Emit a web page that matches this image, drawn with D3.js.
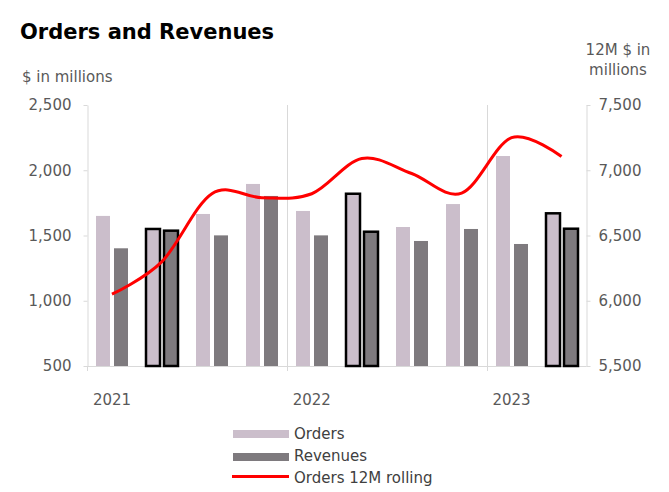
<!DOCTYPE html>
<html>
<head>
<meta charset="utf-8">
<script src="https://cdn.jsdelivr.net/npm/d3@7"></script>
<style>
  html, body { margin: 0; padding: 0; background: #fff; }
  svg { display: block; font-family: "DejaVu Sans", Verdana, sans-serif; }
</style>
</head>
<body>
<svg id="chart" width="669" height="492"></svg>
<script>
// ---- Data ----
const quarters = ["Q1 2021","Q2 2021","Q3 2021","Q4 2021","Q1 2022","Q2 2022","Q3 2022","Q4 2022","Q1 2023","Q2 2023"];
const orders   = [1650, 1550, 1665, 1895, 1688, 1820, 1565, 1741, 2109, 1670];
const revenues = [1402, 1537, 1501, 1803, 1501, 1529, 1458, 1550, 1435, 1552];
const rolling  = [6050, 6300, 6820, 6790, 6820, 7090, 6975, 6825, 7250, 7105];
const highlighted = ["Q2 2021", "Q2 2022", "Q2 2023"];
const yearLabels = ["2021", "2022", "2023"];
const yearStarts = ["Q1 2021", "Q1 2022", "Q1 2023"];
const leftTicks  = [500, 1000, 1500, 2000, 2500];
const rightTicks = [5500, 6000, 6500, 7000, 7500];
const seriesNames = ["Orders", "Revenues", "Orders 12M rolling"];

// ---- Layout ----
const svg = d3.select("#chart");
const plotLeft = 87, plotRight = 586.5, plotTop = 105, plotBottom = 366;
const axisColor = "#d9d9d9", textColor = "#595959";
const ordersColor = "#cbbecb", revenuesColor = "#7e7a7e";

const x = d3.scaleBand().domain(quarters).range([plotLeft, plotRight]);
const xInner = d3.scaleBand().domain(["orders", "revenues"]).range([0, x.bandwidth()])
  .paddingInner(0.222).paddingOuter(0.5);
const yL = d3.scaleLinear().domain([500, 2500]).range([plotBottom, plotTop]);
const yR = d3.scaleLinear().domain([5500, 7500]).range([plotBottom, plotTop]);

// ---- Title ----
svg.append("text").attr("x", 20).attr("y", 39).attr("font-size", 21).attr("font-weight", "bold")
  .attr("fill", "#000").text("Orders and Revenues");
svg.append("text").attr("x", 22).attr("y", 82).attr("font-size", 15).attr("fill", textColor)
  .text("$ in millions");
const rt = svg.append("text").attr("font-size", 15).attr("fill", textColor).attr("text-anchor", "middle");
rt.append("tspan").attr("x", 618).attr("y", 55).text("12M $ in");
rt.append("tspan").attr("x", 618).attr("y", 75).text("millions");

// ---- Gridlines (year separators) ----
svg.append("g").selectAll("line").data(yearStarts.slice(1)).join("line")
  .attr("x1", d => Math.round(x(d)) + 0.5).attr("x2", d => Math.round(x(d)) + 0.5)
  .attr("y1", plotTop).attr("y2", plotBottom)
  .attr("stroke", axisColor).attr("stroke-width", 1);

// ---- Bottom axis ----
const gx = svg.append("g");
gx.append("line").attr("x1", 84).attr("x2", plotRight).attr("y1", plotBottom + 0.5).attr("y2", plotBottom + 0.5)
  .attr("stroke", axisColor);
gx.selectAll("line.tick").data(yearStarts).join("line").attr("class", "tick")
  .attr("x1", d => Math.round(x(d)) + 0.5).attr("x2", d => Math.round(x(d)) + 0.5)
  .attr("y1", plotBottom).attr("y2", plotBottom + 5).attr("stroke", axisColor);
gx.selectAll("text").data(yearStarts).join("text")
  .attr("x", d => x(d) + x.bandwidth() / 2).attr("y", 405)
  .attr("text-anchor", "middle").attr("font-size", 15).attr("fill", textColor)
  .text((d, i) => yearLabels[i]);

// ---- Left axis ----
const gL = svg.append("g").attr("transform", `translate(${plotLeft + 0.5},0)`)
  .call(d3.axisLeft(yL).tickValues(leftTicks).tickFormat(d3.format(",")).tickSize(4).tickSizeOuter(0).tickPadding(12));
gL.selectAll("path, line").attr("stroke", axisColor);
gL.selectAll("text").attr("font-size", 15).attr("fill", textColor).attr("font-family", "DejaVu Sans");

// ---- Right axis ----
const gR = svg.append("g").attr("transform", `translate(${Math.round(plotRight) - 0.5},0)`)
  .call(d3.axisRight(yR).tickValues(rightTicks).tickFormat(d3.format(",")).tickSize(4).tickSizeOuter(0).tickPadding(8));
gR.selectAll("path, line").attr("stroke", axisColor);
gR.selectAll("text").attr("font-size", 15).attr("fill", textColor).attr("font-family", "DejaVu Sans");

// ---- Bars ----
const bars = svg.append("g");
bars.selectAll("rect.orders").data(quarters).join("rect").attr("class", "orders")
  .attr("x", d => Math.round(x(d) + xInner("orders")))
  .attr("width", Math.round(xInner.bandwidth()))
  .attr("y", (d, i) => yL(orders[i]))
  .attr("height", (d, i) => plotBottom - yL(orders[i]))
  .attr("fill", ordersColor)
  .attr("stroke", d => highlighted.includes(d) ? "#000" : "none")
  .attr("stroke-width", 2.5);
bars.selectAll("rect.revenues").data(quarters).join("rect").attr("class", "revenues")
  .attr("x", d => Math.round(x(d) + xInner("revenues")))
  .attr("width", Math.round(xInner.bandwidth()))
  .attr("y", (d, i) => yL(revenues[i]))
  .attr("height", (d, i) => plotBottom - yL(revenues[i]))
  .attr("fill", revenuesColor)
  .attr("stroke", d => highlighted.includes(d) ? "#000" : "none")
  .attr("stroke-width", 2.5);

// ---- Rolling line ----
const line = d3.line()
  .x((d, i) => x(quarters[i]) + x.bandwidth() / 2)
  .y(d => yR(d))
  .curve(d3.curveCardinal.tension(0));
svg.append("path").datum(rolling).attr("d", line)
  .attr("fill", "none").attr("stroke", "#ff0000").attr("stroke-width", 3);

// ---- Legend ----
const lg = svg.append("g");
lg.append("rect").attr("x", 233).attr("y", 430).attr("width", 56).attr("height", 8).attr("fill", ordersColor);
lg.append("rect").attr("x", 233).attr("y", 453).attr("width", 56).attr("height", 8).attr("fill", revenuesColor);
lg.append("line").attr("x1", 232).attr("x2", 289).attr("y1", 476.5).attr("y2", 476.5)
  .attr("stroke", "#ff0000").attr("stroke-width", 3);
lg.selectAll("text").data(seriesNames).join("text")
  .attr("x", 294).attr("y", (d, i) => 439 + i * 22)
  .attr("font-size", 15).attr("fill", "#404040").text(d => d);
</script>
</body>
</html>
